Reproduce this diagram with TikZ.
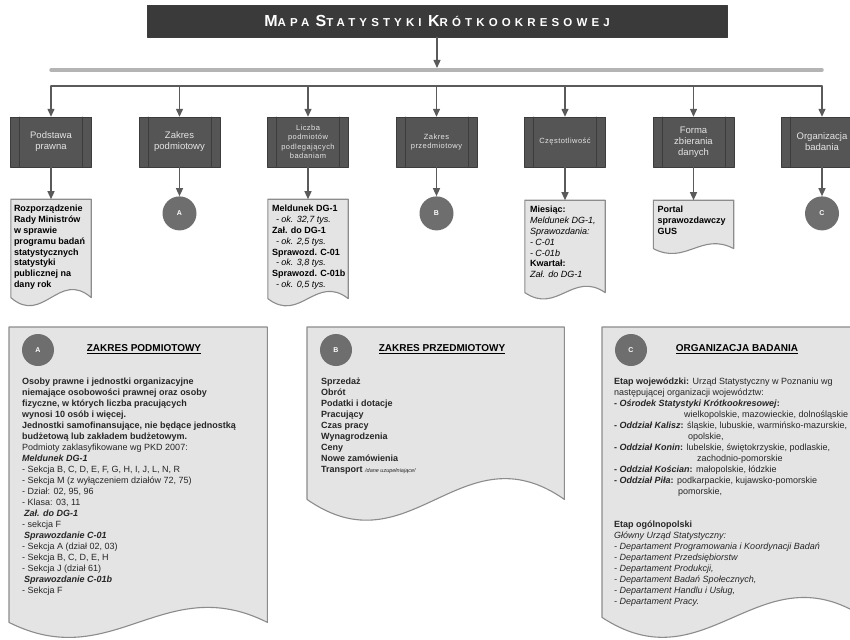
\documentclass[tikz,border=0pt]{standalone}
\usepackage{fontspec}
\setmainfont{Liberation Sans}
\usetikzlibrary{arrows.meta,positioning,calc}

\definecolor{titlegray}{HTML}{3A3A3A}
\definecolor{boxgray}{HTML}{555555}
\definecolor{boxedge}{HTML}{3C3C3C}
\definecolor{docfill}{HTML}{E4E4E4}
\definecolor{docedge}{HTML}{8C8C8C}
\definecolor{circgray}{HTML}{6E6E6E}
\definecolor{linegray}{HTML}{5A5A5A}
\definecolor{bargray}{HTML}{B4B4B4}

% sheet of paper with a wavy lower edge, drawn round an empty node
\newcommand\docoutline[2]{%
  \draw[docline] (#1.north west) -- (#1.north east) -- (#1.south east)
    .. controls ($(#1.south east)!.4!(#1.south west)+(0,-#2)$)
    and ($(#1.south east)!.6!(#1.south west)+(0,#2)$) .. (#1.south west) -- cycle;}
% small capitals for the title
\newcommand\tsc[2]{{\fontsize{16}{16}\selectfont#1}{\fontsize{11.5}{11.5}\selectfont#2}}

\begin{document}
\begin{tikzpicture}[x=1pt,y=-1pt,line cap=round,line join=round,
  arr/.style={draw=linegray,line width=1.3pt,-{Triangle[length=8pt,width=7pt]}},
  titlebox/.style={fill=titlegray,draw=boxedge,minimum width=580pt,minimum height=32pt,
    text=white,font=\bfseries\addfontfeature{LetterSpace=36}},
  head/.style={fill=boxgray,draw=boxedge,minimum width=81pt,minimum height=50pt,
    inner sep=1pt,align=center,text=white!90!black,font=\fontsize{9.5}{11}\selectfont,
    path picture={\draw[boxedge,line width=.8pt]
      ([xshift=9pt]path picture bounding box.north west) -- ([xshift=9pt]path picture bounding box.south west)
      ([xshift=-9pt]path picture bounding box.north east) -- ([xshift=-9pt]path picture bounding box.south east);}},
  smallhead/.style={font=\fontsize{7.5}{9.5}\selectfont\addfontfeature{LetterSpace=6}},
  doc/.style={inner sep=0pt,minimum width=80pt},
  docline/.style={fill=docfill,draw=docedge,line width=1.1pt},
  doctext/.style={anchor=north west,inner sep=0pt,align=left,font=\fontsize{9}{10.8}\selectfont\bfseries},
  bigtext/.style={anchor=north west,inner sep=0pt,align=left,text=black!85,font=\fontsize{9}{11}\selectfont},
  letter/.style={circle,fill=circgray,minimum size=34pt,inner sep=0pt,text=white,
    font=\fontsize{7}{7}\selectfont\bfseries},
  heading/.style={anchor=base,font=\fontsize{10}{12}\selectfont\bfseries}]

\useasboundingbox[fill=white] (0,0) rectangle (850,639);

% title and the two bars under it
\node[titlebox] (title) at (437,21) {\tsc{M}{APA} \tsc{S}{TATYSTYKI} \tsc{K}{RÓTKOOKRESOWEJ}};
\coordinate (barL) at (51,70);
\coordinate (barR) at (822,70);
\coordinate (rowL) at (51,86);
\coordinate (rowR) at (822,86);
\draw[bargray,line width=3.5pt] (barL) -- (barR);
\draw[arr] (title) -- ($(title |- barL)+(0,-2)$);
\draw[linegray,line width=1.3pt] (rowL) -- (rowR);

% column heads
\node[head] (podstawa) at (51,142) {Podstawa\\prawna};
\node[head] (zakres) at (179.5,142) {Zakres\\podmiotowy};
\node[head,smallhead] (liczba) at (308,142) {Liczba\\podmiotów\\podlegających\\badaniam};
\node[head,smallhead] (przedm) at (436.5,142) {Zakres\\przedmiotowy};
\node[head,smallhead] (czest) at (565,142) {Częstotliwość};
\node[head] (forma) at (693.5,142) {Forma\\zbierania\\danych};
\node[head] (org) at (822,142) {Organizacja\\badania};
\foreach \n in {podstawa,zakres,liczba,przedm,czest,forma,org}
  \draw[arr] (\n |- rowL) -- (\n);

% what hangs under each head
\node[doc,minimum height=98pt,below=32pt of podstawa] (prawo) {};
\docoutline{prawo}{28}
\node[doctext] (prawoT) at ($(prawo.north west)+(3,6)$)
  {Rozporządzenie\\Rady Ministrów\\w sprawie\\programu badań\\statystycznych\\statystyki\\publicznej na\\dany rok};

\node[letter,below=29pt of zakres] (cA) {A};

\node[doc,minimum height=99pt,below=32pt of liczba] (ankiety) {};
\docoutline{ankiety}{25}
\node[doctext] (ankietyT) at ($(ankiety.north west)+(4,6)$)
  {Meldunek DG-1\\\hspace*{4pt}\mdseries\itshape- ok. 32,7 tys.\\
   Zał. do DG-1\\\hspace*{4pt}\mdseries\itshape- ok. 2,5 tys.\\
   Sprawozd. C-01\\\hspace*{4pt}\mdseries\itshape- ok. 3,8 tys.\\
   Sprawozd. C-01b\\\hspace*{4pt}\mdseries\itshape- ok. 0,5 tys.};

\node[letter,below=29pt of przedm] (cB) {B};

\node[doc,minimum height=92pt,below=33pt of czest] (okres) {};
\docoutline{okres}{22}
\node[doctext] (okresT) at ($(okres.north west)+(5,6)$)
  {Miesiąc:\\\mdseries\itshape Meldunek DG-1,\\\mdseries\itshape Sprawozdania:\\
   \mdseries\itshape - C-01\\\mdseries\itshape - C-01b\\Kwartał:\\\mdseries\itshape Zał. do DG-1};

\node[doc,minimum height=48pt,below=33pt of forma] (portal) {};
\docoutline{portal}{17}
\node[doctext] (portalT) at ($(portal.north west)+(4,6)$) {Portal\\sprawozdawczy\\GUS};

\node[letter,below=29pt of org] (cC) {C};

\draw[arr] (podstawa) -- (prawo);
\draw[arr] (zakres) -- (cA);
\draw[arr] (liczba) -- (ankiety);
\draw[arr] (przedm) -- (cB);
\draw[arr] (czest) -- (okres);
\draw[arr] (forma) -- (portal);
\draw[arr] (org) -- (cC);

% sheet A
\node[doc,anchor=north west,minimum width=258pt,minimum height=295pt] (bigA) at (9,327) {};
\docoutline{bigA}{52}
\node[letter,minimum size=32pt] (bigAc) at ($(bigA.north west)+(29,23)$) {A};
\node[heading] (bigAh) at ($(bigA.north west)+(135,24.5)$) {\underline{ZAKRES PODMIOTOWY}};
\node[bigtext] (bigAT) at ($(bigA.north west)+(13,51)$)
  {\textbf{Osoby prawne i jednostki organizacyjne}\\
   \textbf{niemające osobowości prawnej oraz osoby}\\
   \textbf{fizyczne, w których liczba pracujących}\\
   \textbf{wynosi 10 osób i więcej.}\\
   \textbf{Jednostki samofinansujące, nie będące jednostką}\\
   \textbf{budżetową lub zakładem budżetowym.}\\
   Podmioty zaklasyfikowane wg PKD 2007:\\
   \textbf{\textit{Meldunek DG-1}}\\
   - Sekcja B, C, D, E, F, G, H, I, J, L, N, R\\
   - Sekcja M (z wyłączeniem działów 72, 75)\\
   - Dział: 02, 95, 96\\
   - Klasa: 03, 11\\
   \hspace*{2pt}\textbf{\textit{Zał. do DG-1}}\\
   - sekcja F\\
   \hspace*{2pt}\textbf{\textit{Sprawozdanie C-01}}\\
   - Sekcja A (dział 02, 03)\\
   - Sekcja B, C, D, E, H\\
   - Sekcja J (dział 61)\\
   \hspace*{2pt}\textbf{\textit{Sprawozdanie C-01b}}\\
   - Sekcja F};

% sheet B
\node[doc,anchor=north west,minimum width=257pt,minimum height=172pt] (bigB) at (307,327) {};
\docoutline{bigB}{72}
\node[letter,minimum size=32pt] (bigBc) at ($(bigB.north west)+(29,23)$) {B};
\node[heading] (bigBh) at ($(bigB.north west)+(135,24.5)$) {\underline{ZAKRES PRZEDMIOTOWY}};
\node[bigtext,font=\fontsize{9}{11}\selectfont\bfseries] (bigBT) at ($(bigB.north west)+(14,51)$)
  {Sprzedaż\\Obrót\\Podatki i dotacje\\Pracujący\\Czas pracy\\Wynagrodzenia\\Ceny\\Nowe zamówienia\\
   Transport\ {\fontsize{5.5}{11}\selectfont\mdseries\itshape /dane uzupełniające/}};

% sheet C
\node[doc,anchor=north west,minimum width=262pt,minimum height=290pt] (bigC) at (602,327) {};
\docoutline{bigC}{69}
\node[letter,minimum size=32pt] (bigCc) at ($(bigC.north west)+(29,23)$) {C};
\node[heading] (bigCh) at ($(bigC.north west)+(135,24.5)$) {\underline{ORGANIZACJA BADANIA}};
\node[bigtext] (bigCT) at ($(bigC.north west)+(12,51)$)
  {\textbf{Etap wojewódzki:} Urząd Statystyczny w Poznaniu wg\\
   następującej organizacji województw:\\
   \textbf{- \textit{Ośrodek Statystyki Krótkookresowej}:}\\
   \hspace*{70pt}wielkopolskie, mazowieckie, dolnośląskie\\
   \textbf{- \textit{Oddział Kalisz}:} śląskie, lubuskie, warmińsko-mazurskie,\\
   \hspace*{74pt}opolskie,\\
   \textbf{- \textit{Oddział Konin}:} lubelskie, świętokrzyskie, podlaskie,\\
   \hspace*{83pt}zachodnio-pomorskie\\
   \textbf{- \textit{Oddział Kościan}:} małopolskie, łódzkie\\
   \textbf{- \textit{Oddział Piła}:} podkarpackie, kujawsko-pomorskie\\
   \hspace*{64pt}pomorskie,\\[22pt]
   \textbf{Etap ogólnopolski}\\
   \textit{Główny Urząd Statystyczny:}\\
   \textit{- Departament Programowania i Koordynacji Badań}\\
   \textit{- Departament Przedsiębiorstw}\\
   \textit{- Departament Produkcji,}\\
   \textit{- Departament Badań Społecznych,}\\
   \textit{- Departament Handlu i Usług,}\\
   \textit{- Departament Pracy.}};
\end{tikzpicture}
\end{document}
